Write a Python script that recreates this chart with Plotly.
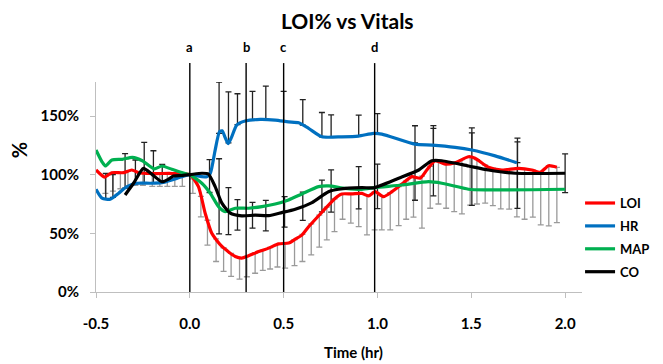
import numpy as np
import plotly.graph_objects as go

# ---------------- data ----------------
loi_t = [-0.5, -0.455, -0.416, -0.354, -0.309, -0.273, -0.2, -0.09, 0.0, 0.046, 0.082, 0.117,
         0.171, 0.242, 0.277, 0.313, 0.367, 0.42, 0.473, 0.527, 0.562, 0.597, 0.634, 0.704,
         0.775, 0.81, 0.863, 0.917, 0.952, 0.987, 1.032, 1.077, 1.13, 1.183, 1.228, 1.263,
         1.308, 1.361, 1.414, 1.485, 1.52, 1.591, 1.663, 1.752, 1.823, 1.867, 1.912, 1.956]
loi_v = [104, 98, 101.7, 101.7, 104, 101.7, 101, 101, 100, 89.8, 67, 50,
         38.8, 30.3, 28.9, 30.9, 34.5, 37.4, 41, 41.7, 45, 48.5, 55.8, 68,
         80, 83.6, 83.6, 84, 81.9, 85.5, 81.3, 85.5, 92, 98.3, 97, 104,
         111.9, 109, 110.2, 115.3, 114, 106.3, 104, 105.4, 104, 102, 107.6, 106.3]

hr_t = [-0.5, -0.468, -0.424, -0.379, -0.335, -0.281, -0.21, -0.149, -0.096, -0.043, 0.0,
        0.064, 0.09, 0.109, 0.135, 0.158, 0.172, 0.19, 0.204, 0.222, 0.25, 0.295, 0.375,
        0.455, 0.526, 0.58, 0.633, 0.704, 0.81, 0.899, 0.979, 1.023, 1.2, 1.29, 1.414,
        1.503, 1.627, 1.743]
hr_v = [87.6, 80, 79, 84.2, 89.8, 92.7, 92.7, 93.2, 95.5, 98.3, 100,
        98.3, 98.3, 101, 121, 136.6, 137.4, 131, 126.5, 131.8, 142.3, 145.7, 147.1,
        146.5, 145, 144.2, 139.5, 132.3, 132.3, 132.9, 135.2, 134.6, 126, 125.2, 123.3,
        121, 116, 110.2]

map_t = [-0.5, -0.468, -0.45, -0.415, -0.36, -0.306, -0.253, -0.19, -0.149, -0.096, -0.043,
         0.0, 0.064, 0.109, 0.153, 0.189, 0.242, 0.313, 0.384, 0.455, 0.526, 0.597, 0.686,
         0.739, 0.828, 0.917, 0.987, 1.13, 1.272, 1.343, 1.485, 1.574, 2.0]
map_v = [121, 111, 107.4, 112.5, 113.1, 114.8, 111.9, 105, 107.4, 104.6, 101.8,
         100, 92.7, 84.2, 72.8, 68.5, 71.4, 71.4, 72.8, 75, 78.5, 83.6, 89.8,
         90.4, 88.4, 87.5, 89, 91.2, 94, 92.7, 87.6, 87, 87.6]

co_t = [-0.345, -0.3, -0.247, -0.203, -0.149, -0.115, -0.088, -0.043, 0.0, 0.064, 0.099,
        0.135, 0.171, 0.215, 0.277, 0.348, 0.42, 0.49, 0.562, 0.651, 0.739, 0.793, 0.917,
        0.98, 1.113, 1.22, 1.29, 1.343, 1.485, 1.591, 1.734, 2.0]
co_v = [82.7, 92.7, 105.4, 100.5, 94, 96, 98.9, 99.3, 100, 101.2, 100.6,
        89.8, 75.7, 67.2, 64.9, 65.5, 65.1, 67.7, 70.6, 76.2, 85.5, 87.6, 89,
        88.8, 97, 104, 111.9, 111.9, 107.4, 104, 101.2, 101.2]

# LOI error bars (downward only): times and lower ends (%)
loi_err_t = [-0.45, -0.41, -0.37, -0.33, -0.29, -0.25, -0.2, -0.16, -0.12, -0.08, -0.04,
             0.016, 0.059, 0.094, 0.14, 0.18, 0.22, 0.265, 0.304, 0.348, 0.389, 0.428,
             0.467, 0.508, 0.558, 0.6, 0.647, 0.69, 0.73, 0.771, 0.814, 0.858, 0.9, 0.944,
             0.985, 1.023, 1.068, 1.113, 1.153, 1.192, 1.237, 1.281, 1.325, 1.366, 1.409,
             1.45, 1.494, 1.53, 1.574, 1.615, 1.657, 1.702, 1.743, 1.784, 1.828, 1.87,
             1.913, 1.956]
loi_err_low = [84, 86, 88, 89, 91, 91, 90, 90, 90, 90, 90,
               84, 64, 40, 26, 17.5, 13.3, 11, 13, 16, 18.4, 19.6,
               21.3, 20.4, 22.4, 26, 31.7, 38.3, 44.5, 51.5, 62, 58.7, 55.8, 48.7,
               53, 53, 53, 56.6, 62, 63.8, 54.4, 71.4, 75, 71.4, 68.5,
               66.6, 74, 75, 75.7, 73.6, 70.8, 70.6, 64, 62, 63.8, 57.2,
               56.4, 59.2]

# HR error bars (upward only): times and upper ends (%)
hr_err_t = [-0.448, -0.41, -0.345, -0.29, -0.243, -0.194, -0.147, 0.156, 0.206, 0.254,
            0.334, 0.405, 0.5, 0.602, 0.704, 0.753, 0.9, 1.0, 1.2, 1.298, 1.503, 1.746]
hr_err_high = [101, 100, 118, 112.5, 127.5, 120.4, 108.8, 179, 170.6, 169,
               171, 175.4, 171, 164, 153, 151, 150.8, 152, 141.7, 139.4, 135.7, 128]

# CO error bars (both directions): times and +/- size (%)
co_err_t = [0.105, 0.156, 0.206, 0.254, 0.334, 0.405, 0.505, 0.602, 0.704, 0.753, 0.9,
            1.0, 1.2, 1.298, 1.503, 1.746, 2.0]
co_err = [14, 32, 20, 13, 11, 13, 13, 12, 13.5, 18, 18,
          19, 24.5, 30, 33, 30, 16.5]

# event markers
event_t = [0.0, 0.3, 0.5, 0.985]
event_lbl = ["a", "b", "c", "d"]

# axis ticks
x_tick_vals = [-0.5, 0.0, 0.5, 1.0, 1.5, 2.0]
x_tick_text = ["-0.5", "0.0", "0.5", "1.0", "1.5", "2.0"]
y_tick_vals = [0, 50, 100, 150]
y_tick_text = ["0%", "50%", "100%", "150%"]

series = [("LOI", loi_t, loi_v, "#FF0000"),
          ("HR", hr_t, hr_v, "#0070C0"),
          ("MAP", map_t, map_v, "#00B050"),
          ("CO", co_t, co_v, "#000000")]

FONT = "Lato"
fig = go.Figure()

# --- error bars (drawn first so the lines sit on top) ---
loi_err_y = np.interp(loi_err_t, loi_t, loi_v)
fig.add_trace(go.Scatter(
    x=loi_err_t, y=loi_err_y, mode="markers", marker=dict(opacity=0, size=1),
    showlegend=False, hoverinfo="skip",
    error_y=dict(type="data", symmetric=False, array=[0] * len(loi_err_t),
                 arrayminus=list(loi_err_y - np.array(loi_err_low)),
                 color="#9A9A9A", thickness=1.3, width=3)))

hr_err_y = np.interp(hr_err_t, hr_t, hr_v)
fig.add_trace(go.Scatter(
    x=hr_err_t, y=hr_err_y, mode="markers", marker=dict(opacity=0, size=1),
    showlegend=False, hoverinfo="skip",
    error_y=dict(type="data", symmetric=False,
                 array=list(np.array(hr_err_high) - hr_err_y),
                 arrayminus=[0] * len(hr_err_t),
                 color="#222222", thickness=1.3, width=3)))

co_err_y = np.interp(co_err_t, co_t, co_v)
fig.add_trace(go.Scatter(
    x=co_err_t, y=co_err_y, mode="markers", marker=dict(opacity=0, size=1),
    showlegend=False, hoverinfo="skip",
    error_y=dict(type="data", symmetric=True, array=co_err,
                 color="#222222", thickness=1.3, width=3)))

# --- lines ---
for name, t, v, col in series:
    fig.add_trace(go.Scatter(
        x=t, y=v, mode="lines", name=name, legendgroup=name,
        line=dict(color=col, width=3.2, shape="spline", smoothing=0.6)))

# --- event lines and labels ---
for t, lbl in zip(event_t, event_lbl):
    fig.add_shape(type="line", xref="x", yref="paper", x0=t, x1=t, y0=0, y1=1.09,
                  line=dict(color="black", width=1.4), layer="above")
    fig.add_annotation(x=t, xref="x", y=1.167, yref="paper", text=lbl, showarrow=False,
                       xanchor="center", yanchor="middle",
                       font=dict(family=FONT, size=13, color="black", weight="bold"))

# axis titles as annotations
fig.add_annotation(x=0.529, xref="paper", y=-0.286, yref="paper", text="Time (hr)",
                   showarrow=False, xanchor="center", yanchor="middle",
                   font=dict(family=FONT, size=15, color="black", weight="bold"))
fig.add_annotation(x=-0.158, xref="paper", y=0.676, yref="paper", text="%", textangle=-90,
                   showarrow=False, xanchor="center", yanchor="middle",
                   font=dict(family=FONT, size=20, color="black", weight="bold"))

fig.update_layout(
    width=655, height=356,
    margin=dict(l=88, r=81, t=74, b=72, autoexpand=False),
    plot_bgcolor="white", paper_bgcolor="white",
    font=dict(family=FONT, color="black"),
    title=dict(text="LOI% vs Vitals", x=0.518, xref="container", xanchor="center",
               y=0.962, yref="container", yanchor="middle",
               font=dict(family=FONT, size=21, color="black", weight="bold")),
    legend=dict(x=0.996, xanchor="left", y=0.495, yanchor="top", itemwidth=30,
                traceorder="grouped", tracegroupgap=3,
                font=dict(family=FONT, size=13, color="black", weight="bold"),
                bgcolor="rgba(0,0,0,0)"),
    showlegend=True,
)
fig.update_xaxes(range=[-0.5, 2.09], tickvals=x_tick_vals, ticktext=x_tick_text,
                 showgrid=False, zeroline=False, showline=True, linecolor="#BFBFBF",
                 linewidth=1, ticks="outside", ticklen=5, tickcolor="#BFBFBF",
                 ticklabelstandoff=13,
                 tickfont=dict(family=FONT, size=15, color="black", weight="bold"))
fig.update_yaxes(range=[0, 179], tickvals=y_tick_vals, ticktext=y_tick_text,
                 showgrid=False, zeroline=False, showline=True, linecolor="#BFBFBF",
                 linewidth=1, ticks="outside", ticklen=5, tickcolor="#BFBFBF",
                 ticklabelstandoff=8,
                 tickfont=dict(family=FONT, size=15, color="black", weight="bold"))

fig.write_html("out.html")
